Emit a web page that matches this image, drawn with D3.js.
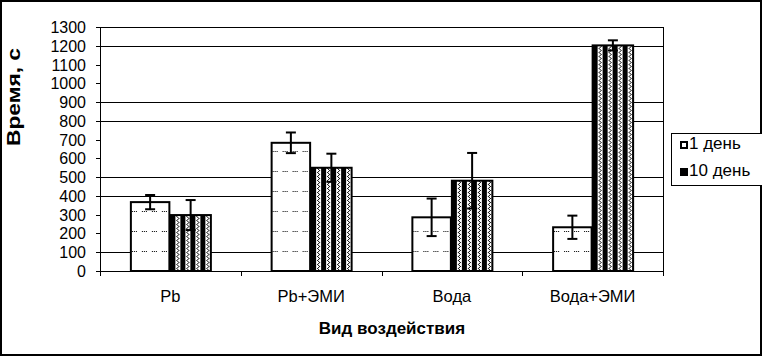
<!DOCTYPE html>
<html>
<head>
<meta charset="utf-8">
<script src="https://cdn.jsdelivr.net/npm/d3@7"></script>
<style>
  body { margin: 0; background: #fff; }
  text { font-family: "Liberation Sans", Arial, sans-serif; fill: #000; }
</style>
</head>
<body>
<div id="chart"></div>
<script>
const categories = ['Pb', 'Pb+ЭМИ', 'Вода', 'Вода+ЭМИ']
const day1 = [367, 683, 286, 233]
const day10 = [298, 550, 481, 1202]
const err1 = [38, 55, 100, 62]
const err10 = [80, 75, 148, 27]
const seriesNames = ['1 день', '10 день']
const yTicks = d3.range(0, 1301, 100)
const gridValues = [100, 400, 500, 800, 900, 1200]

const width = 762
const height = 357
const plot = { left: 100, right: 663, top: 27, bottom: 271 }

const svg = d3.select('#chart').append('svg')
  .attr('width', width)
  .attr('height', height)

const defs = svg.append('defs')

const x = d3.scaleBand().domain(categories).range([plot.left, plot.right])
const barW = 40.5
const y = d3.scaleLinear().domain([0, 1300]).range([plot.bottom, plot.top])

// outer frame
svg.append('rect')
  .attr('x', 1).attr('y', 1)
  .attr('width', width - 2).attr('height', height - 3)
  .attr('fill', 'none').attr('stroke', '#000').attr('stroke-width', 2)

// gridlines
svg.selectAll('.grid').data(gridValues).enter().append('line')
  .attr('x1', plot.left).attr('x2', plot.right)
  .attr('y1', d => Math.round(y(d)) + 0.5).attr('y2', d => Math.round(y(d)) + 0.5)
  .attr('stroke', '#000').attr('stroke-width', 1)

// plot border
svg.append('rect')
  .attr('x', plot.left + 0.5).attr('y', plot.top + 0.5)
  .attr('width', plot.right - plot.left).attr('height', plot.bottom - plot.top)
  .attr('fill', 'none').attr('stroke', '#000')

// patterns: dotted rows for "1 день", zigzag stripes for "10 день"
function dotPattern(id, x0) {
  const p = defs.append('pattern').attr('id', id)
    .attr('patternUnits', 'userSpaceOnUse')
    .attr('x', x0).attr('y', 11).attr('width', 10).attr('height', 20)
  p.append('rect').attr('width', 10).attr('height', 20).attr('fill', '#fff')
  ;[2, 4, 6].forEach(dx => p.append('rect').attr('x', dx).attr('y', 0).attr('width', 1).attr('height', 1).attr('fill', '#000'))
}
function zigPattern(id, x0) {
  const p = defs.append('pattern').attr('id', id)
    .attr('patternUnits', 'userSpaceOnUse')
    .attr('x', x0).attr('y', 0).attr('width', 10).attr('height', 4)
  p.append('rect').attr('width', 10).attr('height', 4).attr('fill', '#000')
  p.append('rect').attr('x', 5).attr('width', 5).attr('height', 4).attr('fill', '#fff')
  ;[[6, 0], [7, 1], [8, 2], [7, 3]]
    .forEach(([px, py]) => p.append('rect').attr('x', px).attr('y', py).attr('width', 1).attr('height', 1).attr('fill', '#000'))
}

const cx = c => x(c) + x.bandwidth() / 2

categories.forEach((c, i) => {
  dotPattern('dots' + i, cx(c) - barW)
  zigPattern('zig' + i, cx(c))
})

// bars
const g = svg.append('g')
g.selectAll('.bar1').data(categories).enter().append('rect')
  .attr('x', d => cx(d) - barW + 1)
  .attr('y', (d, i) => y(day1[i]))
  .attr('width', barW - 2)
  .attr('height', (d, i) => y(0) - y(day1[i]))
  .attr('fill', (d, i) => `url(#dots${i})`)
  .attr('stroke', '#000').attr('stroke-width', 2)

g.selectAll('.bar10').data(categories).enter().append('rect')
  .attr('x', d => cx(d))
  .attr('y', (d, i) => y(day10[i]))
  .attr('width', barW)
  .attr('height', (d, i) => y(0) - y(day10[i]))
  .attr('fill', (d, i) => `url(#zig${i})`)
  .attr('stroke', '#000').attr('stroke-width', 2)

// error bars
function errorBars(vals, errs, off) {
  categories.forEach((c, i) => {
    const ex = cx(c) + off
    const top = y(vals[i] + errs[i])
    const bot = y(vals[i] - errs[i])
    g.append('line').attr('x1', ex).attr('x2', ex).attr('y1', top).attr('y2', bot)
      .attr('stroke', '#000').attr('stroke-width', 2)
    ;[top, bot].forEach(yy => g.append('line')
      .attr('x1', ex - 5).attr('x2', ex + 5).attr('y1', yy).attr('y2', yy)
      .attr('stroke', '#000').attr('stroke-width', 2))
  })
}
errorBars(day1, err1, -barW / 2)
errorBars(day10, err10, barW / 2)

// y axis ticks + labels
svg.selectAll('.ytick').data(yTicks).enter().append('line')
  .attr('x1', plot.left - 4).attr('x2', plot.left)
  .attr('y1', d => Math.round(y(d)) + 0.5).attr('y2', d => Math.round(y(d)) + 0.5)
  .attr('stroke', '#000')
svg.selectAll('.ylab').data(yTicks).enter().append('text')
  .attr('x', 86).attr('y', d => y(d) + 6)
  .attr('text-anchor', 'end')
  .style('font-size', '16px')
  .text(d => d)

// x axis ticks + labels
const xEdges = [plot.left, ...categories.map(c => x(c) + x.bandwidth())]
svg.selectAll('.xtick').data(xEdges).enter().append('line')
  .attr('x1', d => Math.round(d) + 0.5).attr('x2', d => Math.round(d) + 0.5)
  .attr('y1', plot.bottom).attr('y2', plot.bottom + 5)
  .attr('stroke', '#000')
svg.selectAll('.xlab').data(categories).enter().append('text')
  .attr('x', d => cx(d)).attr('y', 302)
  .attr('text-anchor', 'middle')
  .style('font-size', '16.5px')
  .text(d => d)

// axis titles
svg.append('text')
  .attr('x', 392).attr('y', 334)
  .attr('text-anchor', 'middle')
  .style('font-size', '17px').style('font-weight', 'bold')
  .text('Вид воздействия')
svg.append('text')
  .attr('transform', 'translate(20,97) rotate(-90)')
  .attr('text-anchor', 'middle')
  .attr('textLength', 98).attr('lengthAdjust', 'spacingAndGlyphs')
  .style('font-size', '19px').style('font-weight', 'bold')
  .text('Время, с')

// legend
const lg = svg.append('g')
lg.append('rect')
  .attr('x', 671.5).attr('y', 133.5).attr('width', 100).attr('height', 52)
  .attr('fill', '#fff').attr('stroke', '#000')
seriesNames.forEach((s, i) => {
  const ly = 142 + i * 27
  lg.append('rect')
    .attr('x', 681).attr('y', ly).attr('width', 6).attr('height', 6)
    .attr('fill', i === 0 ? '#fff' : '#000').attr('stroke', '#000').attr('stroke-width', 2)
  lg.append('text')
    .attr('x', 689).attr('y', ly + 7)
    .style('font-size', '17px')
    .text(s)
})
</script>
</body>
</html>
